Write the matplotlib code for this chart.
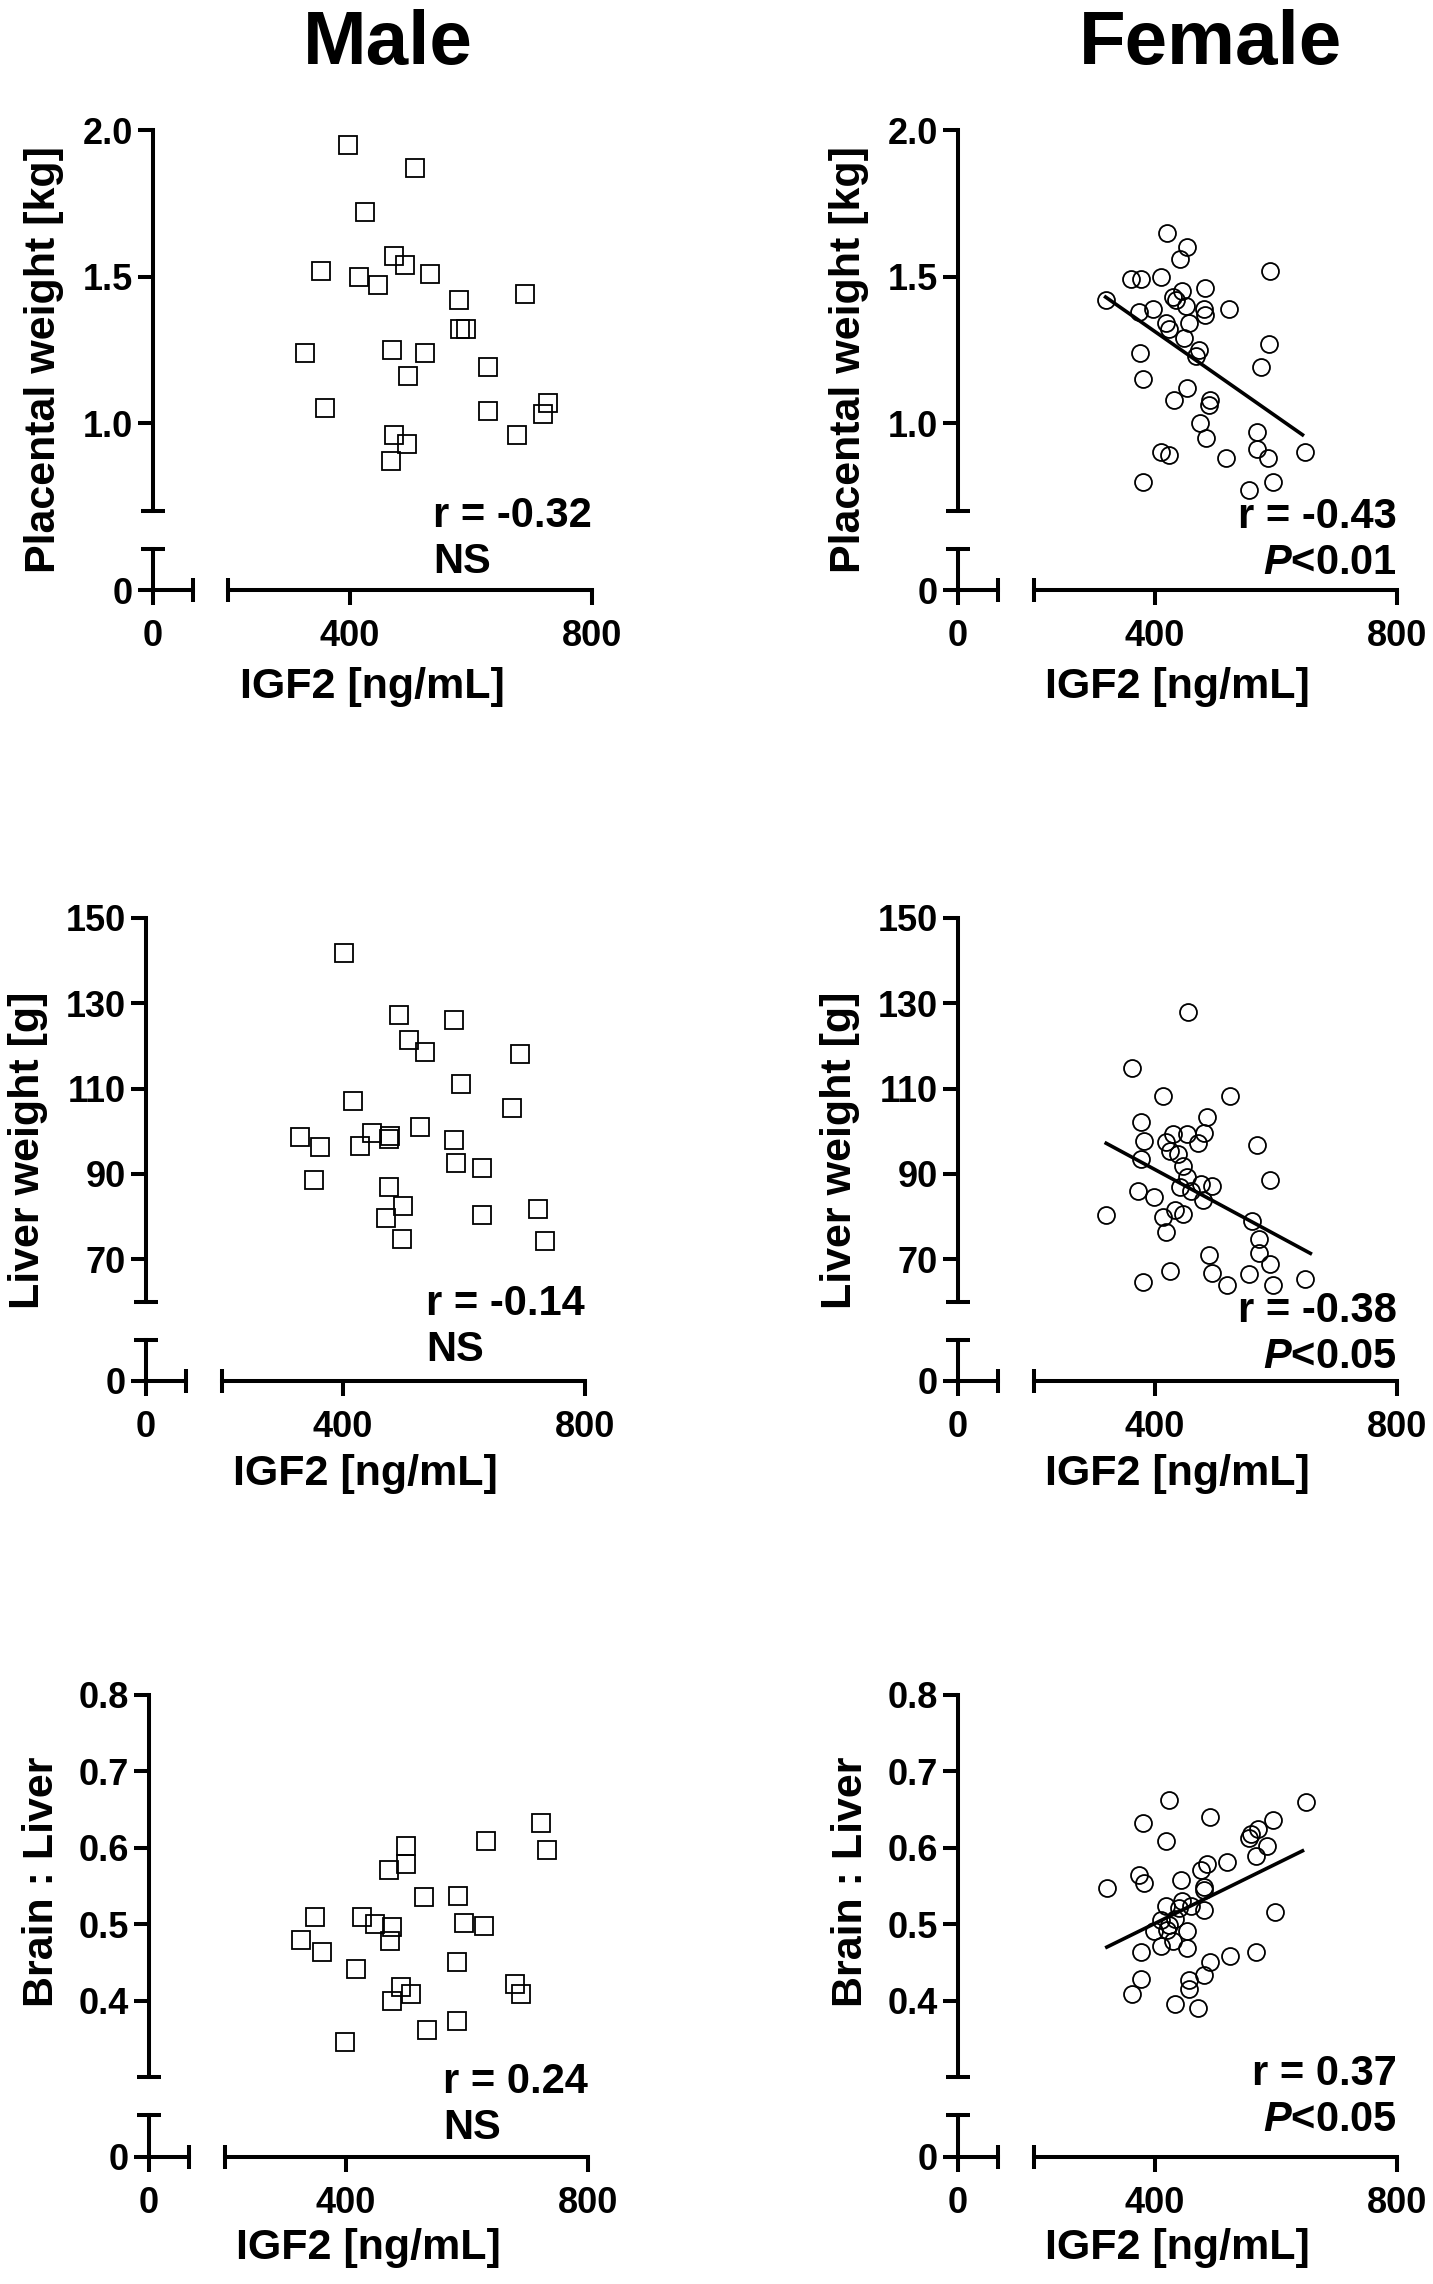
import matplotlib
matplotlib.use("Agg")
import matplotlib.pyplot as plt
from matplotlib.ticker import FormatStrFormatter

plt.rcParams['font.family'] = ['Liberation Sans', 'DejaVu Sans']
plt.rcParams['font.weight'] = 'bold'
plt.rcParams['mathtext.fontset'] = 'custom'
plt.rcParams['mathtext.it'] = 'Liberation Sans:italic:bold'
plt.rcParams['mathtext.rm'] = 'Liberation Sans:bold'

# ---- data ----
# placental weight [kg]
male_pw_x = [398, 508, 425, 474, 491, 352, 416, 446, 533, 580, 689, 592, 582, 327,
             470, 525, 497, 628, 359, 629, 728, 719, 676, 474, 495, 468]
male_pw_y = [1.95, 1.87, 1.72, 1.57, 1.54, 1.52, 1.50, 1.47, 1.51, 1.42, 1.44, 1.32,
             1.32, 1.24, 1.25, 1.24, 1.16, 1.19, 1.05, 1.04, 1.07, 1.03, 0.96, 0.96,
             0.93, 0.87]
female_pw_x = [319, 361, 377, 411, 421, 453, 441, 445, 430, 436, 483, 591, 374, 398,
               481, 483, 523, 419, 457, 449, 474, 468, 376, 589, 576, 381, 454, 432,
               491, 489, 475, 485, 569, 569, 587, 648, 411, 424, 517, 380, 555, 595,
               423, 451]
female_pw_y = [1.42, 1.49, 1.49, 1.50, 1.65, 1.60, 1.56, 1.45, 1.43, 1.42, 1.46, 1.52,
               1.38, 1.39, 1.39, 1.37, 1.39, 1.34, 1.34, 1.29, 1.25, 1.23, 1.24, 1.27,
               1.19, 1.15, 1.12, 1.08, 1.08, 1.06, 1.00, 0.95, 0.97, 0.91, 0.88, 0.90,
               0.90, 0.89, 0.88, 0.80, 0.77, 0.80, 1.32, 1.40]
female_pw_fit_x = [319, 644]
female_pw_fit_y = [1.43, 0.96]

# liver weight [g]
male_lw_x = [402, 493, 583, 509, 536, 693, 595, 417, 679, 528, 330, 449, 478, 476,
             362, 428, 583, 587, 630, 353, 476, 500, 472, 630, 722, 498, 734]
male_lw_y = [141.9, 127.2, 126.2, 121.5, 118.6, 118.1, 111.1, 107.0, 105.4, 101.1,
             98.7, 99.7, 99.0, 98.2, 96.3, 96.6, 97.9, 92.5, 91.5, 88.5, 86.9, 82.6,
             79.7, 80.5, 81.8, 74.8, 74.3]
female_lw_x = [455, 362, 414, 525, 377, 486, 430, 453, 482, 472, 419, 383, 569, 425,
               438, 377, 446, 453, 591, 476, 495, 460, 442, 373, 480, 399, 319, 414,
               434, 447, 419, 560, 573, 572, 490, 590, 556, 425, 494, 381, 519, 595,
               648]
female_lw_y = [128.0, 114.8, 108.3, 108.3, 102.2, 103.3, 99.3, 99.3, 99.7, 97.2, 97.4,
               97.7, 96.8, 95.4, 94.7, 93.6, 91.8, 89.3, 88.5, 87.7, 87.2, 86.1, 86.9,
               86.1, 84.0, 84.5, 80.4, 80.0, 81.5, 80.7, 76.4, 78.9, 74.8, 71.6, 71.1,
               68.9, 66.5, 67.3, 66.8, 64.6, 64.1, 63.9, 65.4]
female_lw_fit_x = [320, 657]
female_lw_fit_y = [97.2, 71.4]

# brain : liver
male_bl_x = [723, 632, 733, 499, 499, 471, 529, 586, 349, 427, 448, 477, 473, 327,
             596, 628, 361, 417, 583, 492, 508, 477, 679, 690, 583, 535, 399]
male_bl_y = [0.632, 0.609, 0.597, 0.602, 0.579, 0.571, 0.536, 0.537, 0.509, 0.509,
             0.500, 0.496, 0.478, 0.479, 0.501, 0.497, 0.463, 0.442, 0.450, 0.418,
             0.409, 0.399, 0.422, 0.409, 0.373, 0.361, 0.346]
female_bl_x = [424, 649, 381, 491, 595, 570, 559, 555, 419, 586, 568, 519, 486, 477,
               321, 374, 383, 444, 482, 482, 445, 419, 460, 482, 440, 599, 411, 434,
               423, 399, 453, 421, 411, 453, 430, 377, 568, 525, 491, 482, 377, 457,
               457, 362, 434, 472]
female_bl_y = [0.663, 0.660, 0.633, 0.640, 0.637, 0.625, 0.618, 0.613, 0.609, 0.602,
               0.589, 0.581, 0.579, 0.571, 0.547, 0.564, 0.554, 0.558, 0.549, 0.545,
               0.531, 0.524, 0.524, 0.519, 0.521, 0.516, 0.506, 0.507, 0.499, 0.491,
               0.491, 0.493, 0.472, 0.469, 0.478, 0.464, 0.463, 0.458, 0.451, 0.433,
               0.428, 0.427, 0.415, 0.409, 0.396, 0.390]
female_bl_fit_x = [321, 644]
female_bl_fit_y = [0.470, 0.596]

titles = ['Male', 'Female']
ylabels = ['Placental weight [kg]', 'Liver weight [g]', 'Brain : Liver']
xlabel = 'IGF2 [ng/mL]'
y_ranges = [(0.7, 2.0), (60, 150), (0.3, 0.8)]
y_low_tops = [0.14, 9.6, 0.054]
y_ticks = [[1.0, 1.5, 2.0], [70, 90, 110, 130, 150], [0.4, 0.5, 0.6, 0.7, 0.8]]
y_fmts = ['%.1f', '%d', '%.1f']
x_low = (0, 65)
x_high = (200, 800)
x_ticks = [400, 800]
r_text = [['r = -0.32', 'r = -0.43'], ['r = -0.14', 'r = -0.38'], ['r = 0.24', 'r = 0.37']]
p_text = [['NS', '$P$<0.01'], ['NS', '$P$<0.05'], ['NS', '$P$<0.05']]

# ---- layout in pixels (figure 1433 x 2284) ----
W, H = 1433, 2284
LW = 2.9
row_top = [130, 918, 1695]
row_cap = [549, 1340, 2115]
row_zero = [590, 1381, 2157]
spine_x = [[153, 958], [146, 958], [149, 958]]
ylab_y = [360, 1150, 1882]
ylab_dx = [-109, -118, -107]
xlab_dy = [97, 93, 91]
# baseline of the second stats line, below the row top
stat_dy = [[443, 444], [443, 450], [444, 436]]


def frac(x0, y0, x1, y1):
    return [x0 / W, 1 - y1 / H, (x1 - x0) / W, (y1 - y0) / H]


def style_ticks(ax, axis, pad):
    ax.tick_params(axis=axis, which='major', direction='out', length=10.8,
                   width=LW, pad=pad, labelsize=26)
    ax.tick_params(axis=axis, which='minor', direction='inout', length=17.3,
                   width=LW)


def panel(fig, row, col, xs, ys, marker, ms, fit=None):
    sx = spine_x[row][col]
    top, cap, zero = row_top[row], row_cap[row], row_zero[row]
    ylo, yhi = y_ranges[row]
    up_bot = cap - 38

    # upper left: the y axis
    a = fig.add_axes(frac(sx, top, sx + 39.5, up_bot))
    a.patch.set_visible(False)
    a.set_xlim(0, 1)
    a.set_ylim(ylo, yhi)
    for s in ['top', 'right', 'bottom']:
        a.spines[s].set_visible(False)
    a.spines['left'].set_linewidth(LW)
    a.set_xticks([])
    a.set_yticks(y_ticks[row])
    a.set_yticks([ylo], minor=True)
    a.yaxis.set_major_formatter(FormatStrFormatter(y_fmts[row]))
    style_ticks(a, 'y', 3.5)

    # lower left: 0 stubs
    b = fig.add_axes(frac(sx, cap, sx + 39.5, zero))
    b.patch.set_visible(False)
    b.set_xlim(*x_low)
    b.set_ylim(0, y_low_tops[row])
    for s in ['top', 'right']:
        b.spines[s].set_visible(False)
    for s in ['left', 'bottom']:
        b.spines[s].set_linewidth(LW)
    b.set_xticks([0])
    b.set_xticklabels(['0'])
    b.set_xticks([x_low[1]], minor=True)
    b.set_yticks([0])
    b.set_yticklabels(['0'])
    b.set_yticks([y_low_tops[row]], minor=True)
    style_ticks(b, 'x', 10)
    style_ticks(b, 'y', 3.5)

    # lower right: the x axis
    c = fig.add_axes(frac(sx + 75.5, cap, sx + 439, zero))
    c.patch.set_visible(False)
    c.set_xlim(*x_high)
    c.set_ylim(0, 1)
    for s in ['top', 'right', 'left']:
        c.spines[s].set_visible(False)
    c.spines['bottom'].set_linewidth(LW)
    c.set_yticks([])
    c.set_xticks(x_ticks)
    c.set_xticks([x_high[0]], minor=True)
    style_ticks(c, 'x', 10)

    # data
    d = fig.add_axes(frac(sx + 75.5, top, sx + 439, up_bot))
    d.set_xlim(*x_high)
    d.set_ylim(ylo, yhi)
    d.axis('off')
    d.plot(xs, ys, ls='none', marker=marker, ms=ms, mfc='none', mec='black',
           mew=1.3, clip_on=False)
    if fit is not None:
        d.plot(fit[0], fit[1], color='black', lw=2.6, clip_on=False)

    # labels
    fig.text((sx + ylab_dx[row]) / W, 1 - ylab_y[row] / H, ylabels[row],
             rotation=90, ha='center', va='center', fontsize=31)
    fig.text((sx + 219.5) / W, 1 - (zero + xlab_dy[row]) / H, xlabel,
             ha='center', va='center', fontsize=31)
    fig.text((sx + 439) / W, 1 - (top + stat_dy[row][col]) / H,
             r_text[row][col] + '\n' + p_text[row][col],
             ha='right', va='baseline', multialignment='left' if col == 0 else 'right',
             fontsize=30, linespacing=1.2)


fig = plt.figure(figsize=(W / 100, H / 100), dpi=100)
fig.patch.set_facecolor('white')

fig.text(388 / W, 1 - 64 / H, titles[0], ha='center', va='baseline', fontsize=55)
fig.text(1211 / W, 1 - 64 / H, titles[1], ha='center', va='baseline', fontsize=55)

panel(fig, 0, 0, male_pw_x, male_pw_y, 's', 13.1)
panel(fig, 0, 1, female_pw_x, female_pw_y, 'o', 12.2, (female_pw_fit_x, female_pw_fit_y))
panel(fig, 1, 0, male_lw_x, male_lw_y, 's', 13.1)
panel(fig, 1, 1, female_lw_x, female_lw_y, 'o', 12.2, (female_lw_fit_x, female_lw_fit_y))
panel(fig, 2, 0, male_bl_x, male_bl_y, 's', 13.1)
panel(fig, 2, 1, female_bl_x, female_bl_y, 'o', 12.2, (female_bl_fit_x, female_bl_fit_y))

fig.savefig('out.png', dpi=100)
